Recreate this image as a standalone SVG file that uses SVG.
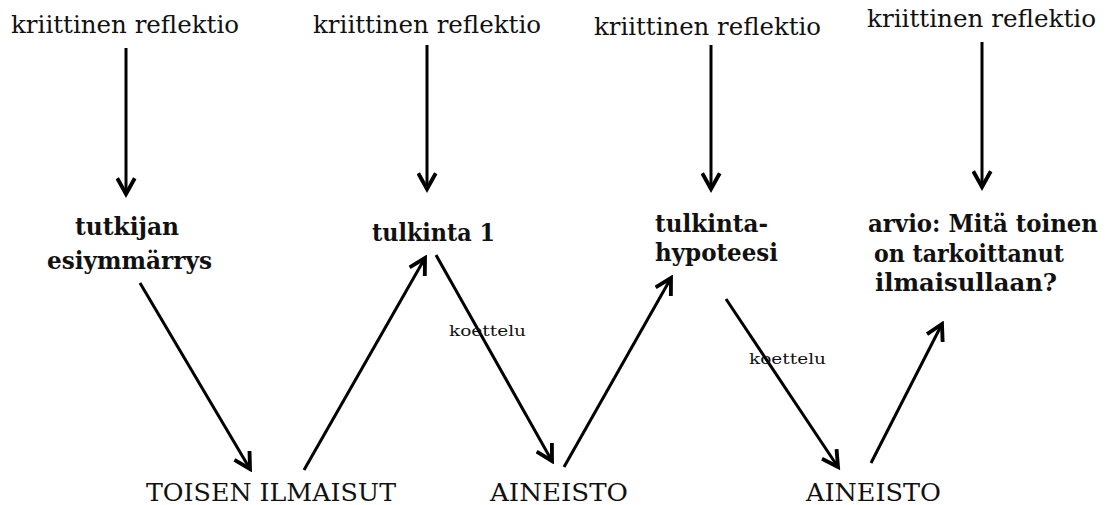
<svg xmlns="http://www.w3.org/2000/svg" width="1106" height="505" viewBox="0 0 1106 505">
  <style>
    .reg { font-family: "DejaVu Serif", "Liberation Serif", serif; font-size: 24px; fill: #111; }
    .bold { font-family: "DejaVu Serif", "Liberation Serif", serif; font-size: 24px; font-weight: bold; fill: #111; }
    .small { font-family: "DejaVu Serif", "Liberation Serif", serif; font-size: 15px; fill: #111; }
    .conn { stroke: #000; stroke-width: 3; fill: none; marker-end: url(#chev); }
  </style>
  <defs>
    <marker id="chev" viewBox="0 0 12 12" refX="10" refY="6" markerWidth="7" markerHeight="7" markerUnits="strokeWidth" orient="auto">
      <path d="M1,1 L10,6 L1,11" fill="none" stroke="#000" stroke-width="2.2"/>
    </marker>
  </defs>
  <rect width="1106" height="505" fill="#fff"/>

  <g id="reflektio-1"><text class="reg" x="11" y="33" textLength="228" lengthAdjust="spacingAndGlyphs">kriittinen reflektio</text></g>
  <g id="reflektio-2"><text class="reg" x="313" y="33" textLength="228" lengthAdjust="spacingAndGlyphs">kriittinen reflektio</text></g>
  <g id="reflektio-3"><text class="reg" x="594" y="35" textLength="227" lengthAdjust="spacingAndGlyphs">kriittinen reflektio</text></g>
  <g id="reflektio-4"><text class="reg" x="867" y="27" textLength="229" lengthAdjust="spacingAndGlyphs">kriittinen reflektio</text></g>

  <g id="esiymmarrys">
    <text class="bold" x="75" y="235" textLength="104" lengthAdjust="spacingAndGlyphs">tutkijan</text>
    <text class="bold" x="47" y="269" textLength="165" lengthAdjust="spacingAndGlyphs">esiymmärrys</text>
  </g>
  <g id="tulkinta-1"><text class="bold" x="372" y="241" textLength="123" lengthAdjust="spacingAndGlyphs">tulkinta 1</text></g>
  <g id="tulkintahypoteesi">
    <text class="bold" x="655" y="232" textLength="113" lengthAdjust="spacingAndGlyphs">tulkinta-</text>
    <text class="bold" x="655" y="261" textLength="123" lengthAdjust="spacingAndGlyphs">hypoteesi</text>
  </g>
  <g id="arvio">
    <text class="bold" x="868" y="232" textLength="230" lengthAdjust="spacingAndGlyphs">arvio: Mitä toinen</text>
    <text class="bold" x="874" y="262" textLength="190" lengthAdjust="spacingAndGlyphs">on tarkoittanut</text>
    <text class="bold" x="875" y="291" textLength="182" lengthAdjust="spacingAndGlyphs">ilmaisullaan?</text>
  </g>

  <g id="toisen-ilmaisut"><text class="reg" x="146" y="501" textLength="250" lengthAdjust="spacingAndGlyphs">TOISEN ILMAISUT</text></g>
  <g id="aineisto-1"><text class="reg" x="490" y="501" textLength="138" lengthAdjust="spacingAndGlyphs">AINEISTO</text></g>
  <g id="aineisto-2"><text class="reg" x="806" y="501" textLength="135" lengthAdjust="spacingAndGlyphs">AINEISTO</text></g>

  <g id="connectors">
    <line class="conn" x1="126" y1="48" x2="126" y2="194"/>
    <line class="conn" x1="427" y1="45" x2="427" y2="189"/>
    <line class="conn" x1="711" y1="45" x2="711" y2="189"/>
    <line class="conn" x1="982" y1="42" x2="982" y2="187"/>

    <line class="conn" x1="140" y1="283" x2="250" y2="469"/>
    <line class="conn" x1="304" y1="470" x2="425" y2="258"/>
    <line class="conn" x1="436" y1="255" x2="552" y2="461"/>
    <line class="conn" x1="564" y1="467" x2="671" y2="278"/>
    <line class="conn" x1="726" y1="299" x2="838" y2="467"/>
    <line class="conn" x1="871" y1="463" x2="942" y2="324"/>

    <text class="small" x="449" y="336" textLength="77" lengthAdjust="spacingAndGlyphs">koettelu</text>
    <text class="small" x="749" y="364" textLength="77" lengthAdjust="spacingAndGlyphs">koettelu</text>
  </g>
</svg>
